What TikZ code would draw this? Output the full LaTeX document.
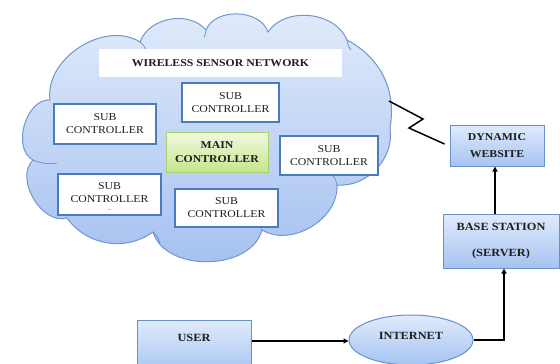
\documentclass[tikz,border=0pt]{standalone}
\usepackage{fontspec}
\setmainfont[FakeStretch=1.12]{Liberation Serif}
\usetikzlibrary{shapes.geometric,arrows.meta}
\definecolor{cloudtop}{HTML}{E2EBFB}
\definecolor{cloudbot}{HTML}{A3C0F0}
\definecolor{cloudline}{HTML}{6F96CE}
\definecolor{boxline}{HTML}{4A7BBF}
\definecolor{bluetop}{HTML}{E0EBFC}
\definecolor{bluebot}{HTML}{A6C3F1}
\definecolor{blueline}{HTML}{6890C9}
\definecolor{greentop}{HTML}{F1F9DF}
\definecolor{greenbot}{HTML}{C6E68E}
\definecolor{greenline}{HTML}{A9D06E}
\definecolor{inktext}{HTML}{1E1E1E}
\tikzset{
  subbox/.style={draw=boxline, line width=1.4pt, fill=white, inner sep=0pt,
    align=center, font=\fontsize{10.5}{13}\selectfont, text=inktext},
  mainbox/.style={draw=greenline, line width=1pt, top color=greentop, bottom color=greenbot,
    inner sep=0pt, align=center, font=\fontsize{10.5}{14}\selectfont\bfseries, text=inktext},
  bluebox/.style={draw=blueline, line width=1pt, top color=bluetop, bottom color=bluebot,
    inner sep=0pt, align=center, text=inktext},
  flow/.style={line width=1.8pt, -{Triangle[length=5pt,width=5pt]}},
  cloudfold/.style={cloudline, line width=0.8pt},
}
\begin{document}
\begin{tikzpicture}[x=1pt,y=-1pt]
\useasboundingbox (0,0) rectangle (560,364);
% cloud
\path[top color=cloudtop, bottom color=cloudbot, draw=cloudline, line width=1pt]
  (33,160) to[bend left=78] (50,100)
  to[bend left=65] (140,42)
  to[bend left=60] (206,30)
  to[bend left=70] (268,32)
  to[bend left=62] (347,40)
  to[bend left=36] (390,128)
  to[bend left=52] (337,185)
  to[bend left=62] (262,230)
  to[bend left=74] (153,232)
  to[bend left=45] (67,218)
  to[bend left=76] (33,160) -- cycle;
\draw[cloudfold] (33,160) to[bend right=15] (57,163);
\draw[cloudfold] (140,42) to[bend left=15] (147,52);
\draw[cloudfold] (206,30) to[bend left=15] (204,37);
\draw[cloudfold] (347,40) to[bend right=15] (351,50);
\draw[cloudfold] (153,232) to[bend left=15] (160,243);
\draw[cloudfold] (262,230) to[bend left=15] (259,222);
\draw[cloudfold] (337,185) to[bend right=15] (333,176);
% WSN title
\node[fill=white, minimum width=243pt, minimum height=28pt, inner sep=0pt,
  font=\fontsize{10.5}{12}\selectfont\bfseries, text=inktext] (wsn) at (220.5,63) {WIRELESS SENSOR NETWORK};
% sub controllers
\node[subbox, minimum width=97pt, minimum height=39pt] (sc1) at (230.5,102.5) {SUB\\CONTROLLER};
\node[subbox, minimum width=102pt, minimum height=40pt] (sc2) at (105,124) {SUB\\CONTROLLER};
\node[mainbox, minimum width=102pt, minimum height=40pt] (main) at (217,152) {MAIN\\CONTROLLER};
\node[subbox, minimum width=98pt, minimum height=39pt] (sc3) at (329,155.5) {SUB\\CONTROLLER};
\node[subbox, minimum width=103pt, minimum height=41pt] (sc4) at (109.5,194.5) {};
\node[align=center, font=\fontsize{10.5}{13}\selectfont, text=inktext] (sc4t) at (109.5,197) {SUB\\CONTROLLER\\[-4pt]{\fontsize{6}{6}\selectfont -}};
\node[subbox, minimum width=103pt, minimum height=38pt] (sc5) at (226.5,208) {SUB\\CONTROLLER};
% right / bottom boxes
\node[bluebox, minimum width=94pt, minimum height=41pt, font=\fontsize{10.5}{17}\selectfont\bfseries] (web) at (497,145.5) {DYNAMIC\\WEBSITE};
\node[bluebox, minimum width=116pt, minimum height=54pt, font=\fontsize{11}{26}\selectfont\bfseries] (base) at (501,241) {BASE STATION\\(SERVER)};
\node[bluebox, minimum width=114pt, minimum height=54pt] (user) at (194,347) {};
\node[font=\fontsize{11}{13}\selectfont\bfseries, text=inktext] (usert) at (194,338) {USER};
\node[bluebox, ellipse, minimum width=124pt, minimum height=50pt] (net) at (411,340) {};
\node[font=\fontsize{11}{13}\selectfont\bfseries, text=inktext] (nett) at (411,336) {INTERNET};
% connectors
\coordinate (z1) at (389,101);
\draw[line width=1.5pt] (z1) -- (423,119) -- (409,128) -- ([xshift=-5pt,yshift=1.5pt]web.west);
\draw[flow] (user.east |- 0,341) -- (net.west |- 0,341);
\draw[flow] (net.east) -| ([xshift=3pt]base.south);
\draw[flow] ([xshift=-2pt]web.south |- base.north) -- ([xshift=-2pt]web.south);
\end{tikzpicture}
\end{document}
